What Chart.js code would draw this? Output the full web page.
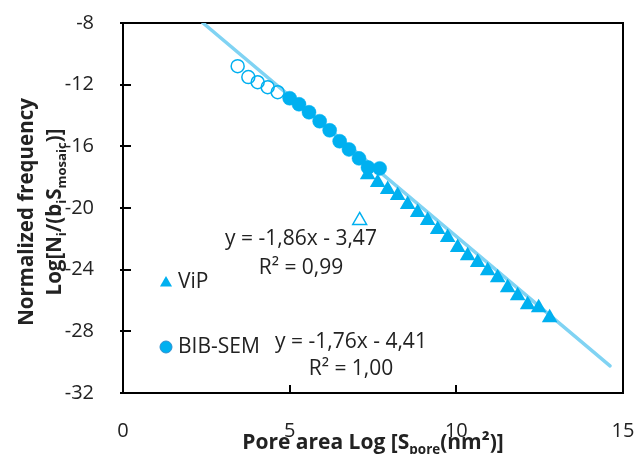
<!DOCTYPE html>
<html>
<head>
<meta charset="utf-8">
<script src="https://cdn.jsdelivr.net/npm/chart.js@4.4.0/dist/chart.umd.min.js"></script>
<style>
  html, body { margin: 0; padding: 0; background: #fff; }
</style>
</head>
<body>
<canvas id="poreChart" width="635" height="454"></canvas>
<script>
(function () {
    'use strict';

    // BIB-SEM, open circles (small pores, excluded from fit)
    var bibOpenX = [3.44, 3.76, 4.04, 4.34, 4.64];
    var bibOpenY = [-10.80, -11.51, -11.84, -12.16, -12.49];

    // BIB-SEM, filled circles
    var bibX = [5.00, 5.28, 5.58, 5.90, 6.20, 6.50, 6.78, 7.08, 7.35, 7.70];
    var bibY = [-12.88, -13.27, -13.79, -14.37, -14.96, -15.67, -16.20, -16.78, -17.37, -17.43];

    // ViP, filled triangles
    var vipX = [7.34, 7.64, 7.94, 8.24, 8.54, 8.84, 9.14, 9.44, 9.74, 10.04, 10.34,
                10.64, 10.94, 11.24, 11.54, 11.84, 12.14, 12.47, 12.80];
    var vipY = [-17.85, -18.34, -18.80, -19.19, -19.77, -20.29, -20.81, -21.40, -21.92, -22.57, -23.09,
                -23.54, -24.07, -24.52, -25.17, -25.69, -26.28, -26.47, -27.12];

    // ViP outlier, open triangle
    var vipOpenX = [7.10];
    var vipOpenY = [-20.81];

    // power-law trend line
    var trendX = [2.40, 14.61];
    var trendY = [-8.00, -30.24];

    var xTicks = [0, 5, 10, 15];
    var yTicks = [-8, -12, -16, -20, -24, -28, -32];

    var BLUE = '#00B0F0';
    var LINE = '#80D3F3';
    var TEXT = '#222';
    var FONT = '"Open Sans", sans-serif';

    function pts(xs, ys) {
        return xs.map(function (x, i) { return { x: x, y: ys[i] }; });
    }

    function drawRich(ctx, parts, x, y, size, weight) {
        var total = 0;
        var sized = parts.map(function (p) {
            var s = p[1] ? size * 0.64 : size;
            ctx.font = weight + ' ' + s + 'px ' + FONT;
            var w = ctx.measureText(p[0]).width;
            total += w;
            return { t: p[0], sub: !!p[1], s: s, w: w };
        });
        var cx = x - total / 2;
        ctx.textAlign = 'left';
        ctx.textBaseline = 'alphabetic';
        sized.forEach(function (p) {
            ctx.font = weight + ' ' + p.s + 'px ' + FONT;
            ctx.fillText(p.t, cx, y + (p.sub ? size * 0.26 : 0));
            cx += p.w;
        });
    }

    function noPad(s) {
        s.paddingLeft = s.paddingRight = s.paddingTop = s.paddingBottom = 0;
    }

    var decorations = {
        id: 'decorations',
        beforeDatasetsDraw: function (chart) {
            var ctx = chart.ctx, a = chart.chartArea;
            var xs = chart.scales.x, ys = chart.scales.y;
            ctx.save();
            ctx.strokeStyle = '#000';
            ctx.lineWidth = 2;
            ctx.strokeRect(a.left, a.top, a.right - a.left, a.bottom - a.top);
            ctx.beginPath();
            yTicks.forEach(function (v) {
                var py = Math.round(ys.getPixelForValue(v));
                ctx.moveTo(a.left - 3, py);
                ctx.lineTo(a.left + 8, py);
            });
            xTicks.forEach(function (v) {
                var px = Math.round(xs.getPixelForValue(v));
                ctx.moveTo(px, a.bottom);
                ctx.lineTo(px, a.bottom - 8);
            });
            ctx.stroke();
            ctx.restore();
        },
        afterDraw: function (chart) {
            var ctx = chart.ctx, a = chart.chartArea;
            ctx.save();
            ctx.fillStyle = TEXT;

            // fit equations
            ctx.font = '21px ' + FONT;
            ctx.textAlign = 'center';
            ctx.textBaseline = 'alphabetic';
            ctx.fillText('y = -1,86x - 3,47', 301, 245);
            ctx.fillText('R\u00B2 = 0,99', 301, 274);
            ctx.fillText('y = -1,76x - 4,41', 351, 348);
            ctx.fillText('R\u00B2 = 1,00', 351, 375);

            // legend inside plot
            ctx.textAlign = 'left';
            ctx.fillText('ViP', 178, 288);
            ctx.fillText('BIB-SEM', 178, 353);
            ctx.fillStyle = BLUE;
            var r = 7;
            ctx.beginPath();
            ctx.moveTo(166, 283 - r);
            ctx.lineTo(166 + r * 0.866, 283 + r / 2);
            ctx.lineTo(166 - r * 0.866, 283 + r / 2);
            ctx.closePath();
            ctx.fill();
            ctx.beginPath();
            ctx.arc(166, 347, 6, 0, Math.PI * 2);
            ctx.fill();
            ctx.strokeStyle = '#2E8FD0';
            ctx.lineWidth = 1;
            ctx.stroke();

            // axis titles
            ctx.fillStyle = TEXT;
            drawRich(ctx, [['Pore area Log [S'], ['pore', 1], ['(nm\u00B2)]']],
                (a.left + a.right) / 2, 449, 21, 'bold');

            ctx.translate(33, (a.top + a.bottom) / 2 + 4);
            ctx.rotate(-Math.PI / 2);
            drawRich(ctx, [['Normalized frequency']], 0, 0, 20.5, 'bold');
            drawRich(ctx, [['Log[N'], ['i', 1], ['/(b'], ['i', 1], ['S'], ['mosaic', 1], [')]']],
                0, 28, 20.5, 'bold');
            ctx.restore();
        }
    };

    Chart.defaults.font.family = FONT;
    Chart.defaults.color = TEXT;

    new Chart(document.getElementById('poreChart'), {
        type: 'scatter',
        data: {
            datasets: [
                {
                    label: 'trend',
                    type: 'line',
                    data: pts(trendX, trendY),
                    borderColor: LINE,
                    borderWidth: 3.5,
                    borderCapStyle: 'round',
                    pointRadius: 0,
                    showLine: true,
                    fill: false,
                    order: 5
                },
                {
                    label: 'ViP',
                    data: pts(vipX, vipY),
                    pointStyle: 'triangle',
                    pointRadius: 9,
                    backgroundColor: BLUE,
                    borderColor: BLUE,
                    borderWidth: 0,
                    order: 3
                },
                {
                    label: 'ViP excluded',
                    data: pts(vipOpenX, vipOpenY),
                    pointStyle: 'triangle',
                    pointRadius: 8,
                    backgroundColor: 'rgba(0,0,0,0)',
                    borderColor: BLUE,
                    borderWidth: 1.5,
                    order: 3
                },
                {
                    label: 'BIB-SEM excluded',
                    data: pts(bibOpenX, bibOpenY),
                    pointStyle: 'circle',
                    pointRadius: 6.5,
                    backgroundColor: 'rgba(0,0,0,0)',
                    borderColor: BLUE,
                    borderWidth: 1.5,
                    order: 2
                },
                {
                    label: 'BIB-SEM',
                    data: pts(bibX, bibY),
                    pointStyle: 'circle',
                    pointRadius: 7,
                    backgroundColor: BLUE,
                    borderColor: BLUE,
                    borderWidth: 0.5,
                    order: 1
                }
            ]
        },
        options: {
            responsive: false,
            animation: false,
            events: [],
            layout: { padding: { top: 23, right: 12, left: 0, bottom: 0 } },
            plugins: { legend: { display: false }, tooltip: { enabled: false } },
            scales: {
                x: {
                    type: 'linear',
                    min: 0, max: 15,
                    afterBuildTicks: function (s) { s.ticks = xTicks.map(function (v) { return { value: v }; }); },
                    afterFit: function (s) { s.height = 61; noPad(s); },
                    grid: { display: false },
                    border: { display: false },
                    ticks: { padding: 18, font: { size: 20 }, color: TEXT, maxRotation: 0 }
                },
                y: {
                    type: 'linear',
                    min: -32, max: -8,
                    afterBuildTicks: function (s) { s.ticks = yTicks.map(function (v) { return { value: v }; }); },
                    afterFit: function (s) { s.width = 123; noPad(s); },
                    grid: { display: false },
                    border: { display: false },
                    ticks: { padding: 21, font: { size: 20 }, color: TEXT }
                }
            }
        },
        plugins: [decorations]
    });
})();
</script>
</body>
</html>
